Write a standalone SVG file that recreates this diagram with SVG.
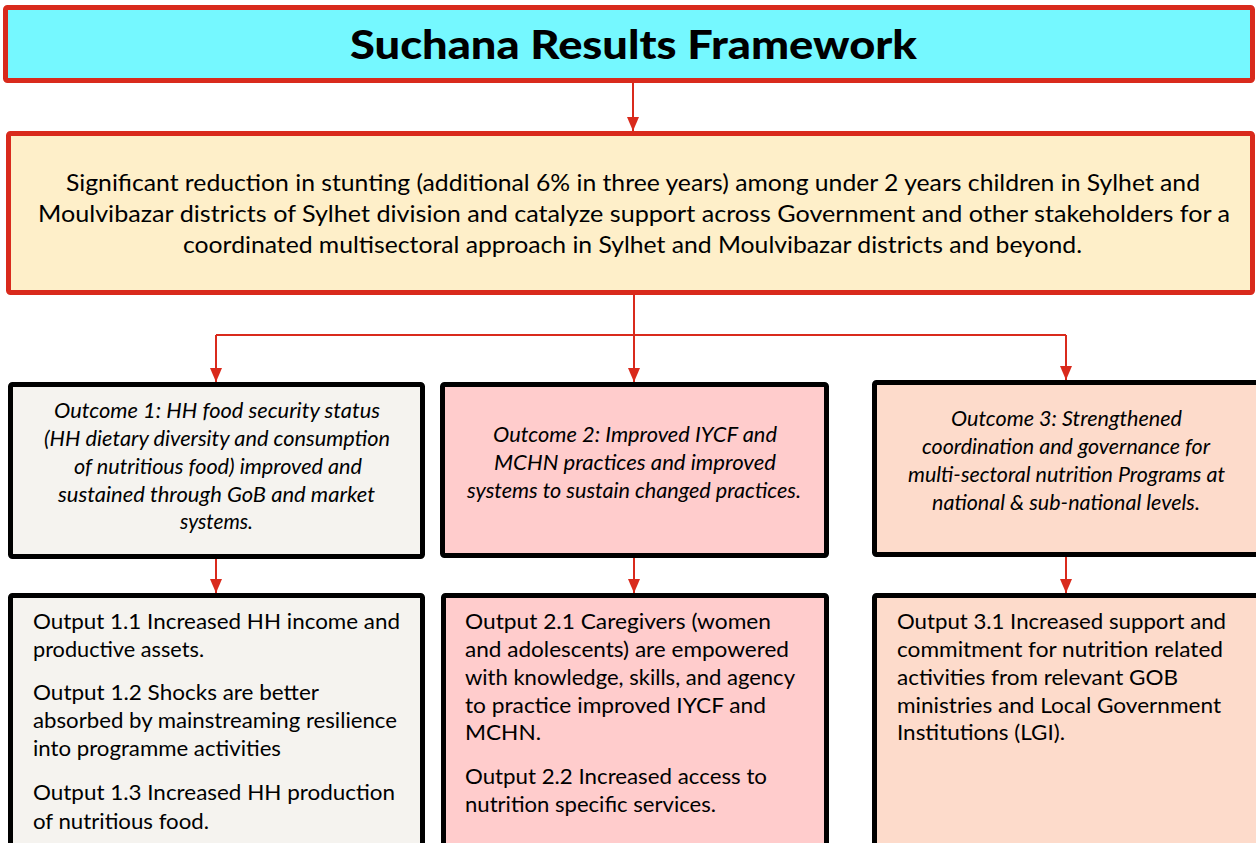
<svg xmlns="http://www.w3.org/2000/svg" width="1256" height="843" viewBox="0 0 1256 843">
<defs>
<marker id="ah" viewBox="0 0 14 12" refX="14" refY="6" markerWidth="14" markerHeight="12" markerUnits="userSpaceOnUse" orient="auto">
<path d="M0,0 L14,6 L0,12 z" fill="#D92A1C"/>
</marker>
</defs>
<style>
.red{stroke:#D92A1C;stroke-width:5;}
.blk{stroke:#000;stroke-width:5;}
.con{fill:none;stroke:#D92A1C;stroke-width:2;}
.t{font-family:Lato,"Liberation Sans",sans-serif;fill:#000;}
.title{font-size:40px;font-weight:900;}
.goal{font-size:23px;}
.oc{font-size:21px;font-style:italic;}
.op{font-size:21px;}
</style>
<rect width="1256" height="843" fill="#fff"/>
<g id="title">
<rect class="red" x="5.5" y="7.5" width="1247" height="73" rx="2" fill="#75F8FF"/>
<text class="t title" x="350" y="59" textLength="567" lengthAdjust="spacingAndGlyphs">Suchana Results Framework</text>
</g>
<g id="goal">
<rect class="red" x="8.5" y="133.5" width="1244" height="159" rx="2" fill="#FEEFC9"/>
<text class="t goal" x="66" y="191" textLength="1134" lengthAdjust="spacingAndGlyphs">Significant reduction in stunting (additional 6% in three years) among under 2 years children in Sylhet and</text>
<text class="t goal" x="38" y="222" textLength="1192" lengthAdjust="spacingAndGlyphs">Moulvibazar districts of Sylhet division and catalyze support across Government and other stakeholders for a</text>
<text class="t goal" x="183" y="253" textLength="899" lengthAdjust="spacingAndGlyphs">coordinated multisectoral approach in Sylhet and Moulvibazar districts and beyond.</text>
</g>
<g id="outcome1">
<rect class="blk" x="10.5" y="384.5" width="412" height="172" rx="2" fill="#F5F3EF"/>
<text class="t oc" x="54" y="418" textLength="326" lengthAdjust="spacingAndGlyphs">Outcome 1: HH food security status</text>
<text class="t oc" x="44" y="446" textLength="346" lengthAdjust="spacingAndGlyphs">(HH dietary diversity and consumption</text>
<text class="t oc" x="74" y="474" textLength="288" lengthAdjust="spacingAndGlyphs">of nutritious food) improved and</text>
<text class="t oc" x="58" y="502" textLength="317" lengthAdjust="spacingAndGlyphs">sustained through GoB and market</text>
<text class="t oc" x="180" y="529" textLength="73" lengthAdjust="spacingAndGlyphs">systems.</text>
</g>
<g id="outcome2">
<rect class="blk" x="442.5" y="384.5" width="384" height="171" rx="2" fill="#FFCCCC"/>
<text class="t oc" x="493" y="442" textLength="284" lengthAdjust="spacingAndGlyphs">Outcome 2: Improved IYCF and</text>
<text class="t oc" x="494" y="470" textLength="282" lengthAdjust="spacingAndGlyphs">MCHN practices and improved</text>
<text class="t oc" x="467" y="498" textLength="334" lengthAdjust="spacingAndGlyphs">systems to sustain changed practices.</text>
</g>
<g id="outcome3">
<rect class="blk" x="874.5" y="382.5" width="400" height="172" rx="2" fill="#FDDBCB"/>
<text class="t oc" x="951" y="426" textLength="231" lengthAdjust="spacingAndGlyphs">Outcome 3: Strengthened</text>
<text class="t oc" x="922" y="454" textLength="288" lengthAdjust="spacingAndGlyphs">coordination and governance for</text>
<text class="t oc" x="908" y="482" textLength="317" lengthAdjust="spacingAndGlyphs">multi-sectoral nutrition Programs at</text>
<text class="t oc" x="932" y="510" textLength="268" lengthAdjust="spacingAndGlyphs">national &amp; sub-national levels.</text>
</g>
<g id="output1">
<rect class="blk" x="10.5" y="595.5" width="412" height="260" rx="2" fill="#F5F3EF"/>
<text class="t op" x="33" y="629" textLength="367" lengthAdjust="spacingAndGlyphs">Output 1.1 Increased HH income and</text>
<text class="t op" x="33" y="657" textLength="171" lengthAdjust="spacingAndGlyphs">productive assets.</text>
<text class="t op" x="33" y="700" textLength="286" lengthAdjust="spacingAndGlyphs">Output 1.2 Shocks are better</text>
<text class="t op" x="33" y="728" textLength="364" lengthAdjust="spacingAndGlyphs">absorbed by mainstreaming resilience</text>
<text class="t op" x="33" y="756" textLength="248" lengthAdjust="spacingAndGlyphs">into programme activities</text>
<text class="t op" x="33" y="800" textLength="362" lengthAdjust="spacingAndGlyphs">Output 1.3 Increased HH production</text>
<text class="t op" x="33" y="829" textLength="176" lengthAdjust="spacingAndGlyphs">of nutritious food.</text>
</g>
<g id="output2">
<rect class="blk" x="443.5" y="595.5" width="383" height="260" rx="2" fill="#FFCCCC"/>
<text class="t op" x="465" y="629" textLength="306" lengthAdjust="spacingAndGlyphs">Output 2.1 Caregivers (women</text>
<text class="t op" x="465" y="657" textLength="324" lengthAdjust="spacingAndGlyphs">and adolescents) are empowered</text>
<text class="t op" x="465" y="685" textLength="330" lengthAdjust="spacingAndGlyphs">with knowledge, skills, and agency</text>
<text class="t op" x="465" y="713" textLength="301" lengthAdjust="spacingAndGlyphs">to practice improved IYCF and</text>
<text class="t op" x="465" y="740" textLength="76" lengthAdjust="spacingAndGlyphs">MCHN.</text>
<text class="t op" x="465" y="784" textLength="302" lengthAdjust="spacingAndGlyphs">Output 2.2 Increased access to</text>
<text class="t op" x="465" y="812" textLength="251" lengthAdjust="spacingAndGlyphs">nutrition specific services.</text>
</g>
<g id="output3">
<rect class="blk" x="874.5" y="595.5" width="400" height="260" rx="2" fill="#FDDBCB"/>
<text class="t op" x="897" y="629" textLength="329" lengthAdjust="spacingAndGlyphs">Output 3.1 Increased support and</text>
<text class="t op" x="897" y="657" textLength="326" lengthAdjust="spacingAndGlyphs">commitment for nutrition related</text>
<text class="t op" x="897" y="685" textLength="281" lengthAdjust="spacingAndGlyphs">activities from relevant GOB</text>
<text class="t op" x="897" y="713" textLength="324" lengthAdjust="spacingAndGlyphs">ministries and Local Government</text>
<text class="t op" x="897" y="740" textLength="168" lengthAdjust="spacingAndGlyphs">Institutions (LGI).</text>
</g>
<g id="connectors">
<path class="con" d="M633 83 L633 131" marker-end="url(#ah)"/>
<path class="con" d="M634 295 L634 382" stroke-width="3" marker-end="url(#ah)"/>
<path class="con" d="M216 335 L1066 335"/>
<path class="con" d="M216 335 L216 382" marker-end="url(#ah)"/>
<path class="con" d="M1066 335 L1066 380" marker-end="url(#ah)"/>
<path class="con" d="M216 559 L216 593" marker-end="url(#ah)"/>
<path class="con" d="M634 558 L634 593" marker-end="url(#ah)"/>
<path class="con" d="M1066 557 L1066 593" marker-end="url(#ah)"/>
</g>
</svg>
